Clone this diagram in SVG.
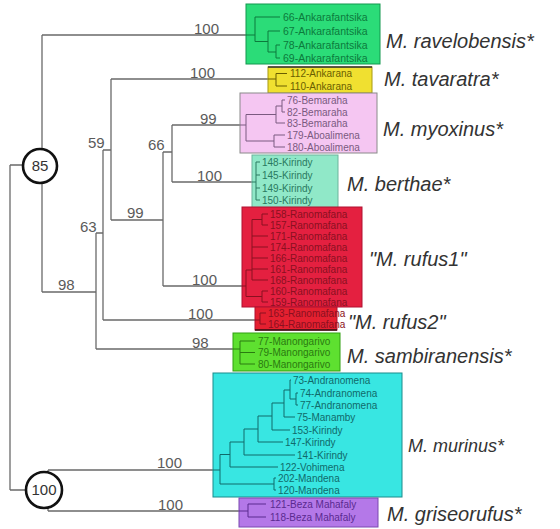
<svg xmlns="http://www.w3.org/2000/svg" width="560" height="529" viewBox="0 0 560 529">
<style>
.ln{stroke:#6a6a6a;stroke-width:1.3;fill:none}
.sup{font-family:"Liberation Sans",Arial,sans-serif;font-size:15px;fill:#5a5a5a}
.sp{font-family:"Liberation Sans",Arial,sans-serif;font-size:20px;font-style:italic;fill:#333}
.tip{font-family:"Liberation Sans",Arial,sans-serif;font-size:10px}
.circ{fill:#fff;stroke:#111;stroke-width:2.6}
.ct{font-family:"Liberation Sans",Arial,sans-serif;font-size:15px;fill:#333;text-anchor:middle}
</style>
<rect width="560" height="529" fill="#fff"/>
<g id="connectors">
<path class="ln" d="M10 165V490M10 165H42M10 490H46M42 35V292M48 470V511M96 233V349M103 150V320M111 79V220M163 152V286M172 125V182M42 35H246M111 79H268M172 125H240M172 182H252M163 152H172M111 220H163M103 150H111M96 233H103M163 286H242M103 320H255M96 349H233M42 292H96M48 470H213M48 511H239"/>
<text class="sup" x="194" y="34">100</text>
<text class="sup" x="190" y="78">100</text>
<text class="sup" x="200" y="124">99</text>
<text class="sup" x="197" y="181">100</text>
<text class="sup" x="148" y="150">66</text>
<text class="sup" x="127" y="218">99</text>
<text class="sup" x="88" y="148">59</text>
<text class="sup" x="80" y="232">63</text>
<text class="sup" x="192" y="285">100</text>
<text class="sup" x="188" y="319">100</text>
<text class="sup" x="192" y="348">98</text>
<text class="sup" x="58" y="290">98</text>
<text class="sup" x="157" y="468">100</text>
<text class="sup" x="158" y="510">100</text>
</g>
<g id="node85"><circle class="circ" cx="40" cy="166" r="17"/><text class="ct" x="40" y="171">85</text></g>
<g id="node100"><circle class="circ" cx="44" cy="490" r="18"/><text class="ct" x="44" y="495">100</text></g>
<g id="ravelobensis">
<rect x="246" y="4" width="134" height="60" fill="#2bdc78" stroke="#12984e"/>
<path d="M246 35H255M255 17V41.5M255 17H280M255 41.5H268M268 31V52M268 31H280M268 52H276M276 45V58M276 45H280M276 58H280" stroke="#0c7a3c" fill="none"/>
<g class="tip" fill="#0c7a3c" style="font-size:10.5px"><text x="283" y="20.5">66-Ankarafantsika</text><text x="283" y="34.5">67-Ankarafantsika</text><text x="283" y="48.5">78-Ankarafantsika</text><text x="283" y="61.5">69-Ankarafantsika</text></g>
<text class="sp" x="386" y="48">M. ravelobensis*</text>
</g>
<g id="tavaratra">
<rect x="268" y="67" width="104" height="26" fill="#f0e030" stroke="#a89a10"/>
<path d="M268 67H372" stroke="#333" stroke-width="1.5"/>
<path d="M268 79H276M276 73.5V86M276 73.5H287M276 86H287" stroke="#6a5e00" fill="none"/>
<g class="tip" fill="#6a5e00"><text x="290" y="77">112-Ankarana</text><text x="290" y="90">110-Ankarana</text></g>
<text class="sp" x="384" y="86">M. tavaratra*</text>
</g>
<g id="myoxinus">
<rect x="240" y="93" width="137" height="60" fill="#f5c6f2" stroke="#8a8a8a"/>
<path d="M240 125H246M246 114.5V141M246 114.5H276M246 141H274M276 106V123M276 123H285M276 106H282M282 100V112M282 100H285M282 112H285M274 135V147M274 135H285M274 147H285" stroke="#7a5a80" fill="none"/>
<g class="tip" fill="#7a5a80"><text x="287" y="103.5">76-Bemaraha</text><text x="287" y="115.5">82-Bemaraha</text><text x="287" y="126.5">83-Bemaraha</text><text x="287" y="138.5">179-Aboalimena</text><text x="287" y="150.5">180-Aboalimena</text></g>
<text class="sp" x="383" y="136">M. myoxinus*</text>
</g>
<g id="berthae">
<rect x="252" y="155" width="86" height="53" fill="#90e8c8" stroke="#6cb49c"/>
<path d="M252 182H256M256 162V200M256 162H260M256 175H260M256 188H260M256 200H260" stroke="#2a7a60" fill="none"/>
<g class="tip" fill="#2a7a60"><text x="262" y="165.5">148-Kirindy</text><text x="262" y="178.5">145-Kirindy</text><text x="262" y="191.5">149-Kirindy</text><text x="262" y="203.5">150-Kirindy</text></g>
<text class="sp" x="347" y="191">M. berthae*</text>
</g>
<g id="rufus1">
<rect x="242" y="207" width="120" height="100" fill="#e42040" stroke="#b01030"/>
<path d="M242 286H246M246 270V296.5M246 270H252M246 296.5H262M262 291V302M262 291H268M262 302H268M252 219.5V280M252 219.5H262M262 214V225M262 214H268M262 225H268M252 236H268M252 247H268M252 258H268M252 269H268M252 280H268" stroke="#8a1020" fill="none"/>
<g class="tip" fill="#8a1020"><text x="270" y="217.5">158-Ranomafana</text><text x="270" y="228.5">157-Ranomafana</text><text x="270" y="239.5">171-Ranomafana</text><text x="270" y="250.5">174-Ranomafana</text><text x="270" y="261.5">166-Ranomafana</text><text x="270" y="272.5">161-Ranomafana</text><text x="270" y="283.5">168-Ranomafana</text><text x="270" y="294.5">160-Ranomafana</text><text x="270" y="305.5">159-Ranomafana</text></g>
<text class="sp" x="369" y="266">"M. rufus1"</text>
</g>
<g id="rufus2">
<rect x="255" y="307" width="82" height="23" fill="#e42030" stroke="#b01030"/>
<path d="M255 330H337" stroke="#301010" stroke-width="1.6"/>
<path d="M255 320H260M260 313V324M260 313H266M260 324H266" stroke="#8a1020" fill="none"/>
<g class="tip" fill="#8a1020"><text x="268" y="316.5">163-Ranomafana</text><text x="268" y="327.5">164-Ranomafana</text></g>
<text class="sp" x="348" y="329">"M. rufus2"</text>
</g>
<g id="sambiranensis">
<rect x="233" y="333" width="107" height="38" fill="#5ee030" stroke="#30a010"/>
<path d="M233 349H240M240 341V364M240 341H255M240 352.5H255M240 364H255" stroke="#2a7a10" fill="none"/>
<g class="tip" fill="#2a7a10"><text x="258" y="344.5">77-Manongarivo</text><text x="258" y="356">79-Manongarivo</text><text x="258" y="367.5">80-Manongarivo</text></g>
<text class="sp" x="347" y="363">M. sambiranensis*</text>
</g>
<g id="murinus">
<rect x="213" y="373" width="189" height="124" fill="#38e6e2" stroke="#1a8c8c"/>
<path d="M213 470H220M220 454.5V484M220 454.5H230M220 484H274M230 442V467M230 467H278M230 442H244M244 429V455M244 455H295M244 429H258M258 416V442M258 442H283M258 416H272M272 403V430M272 430H290M272 403H284M284 390V417M284 417H295M284 390H290M290 380V399M290 380H291M290 399H296M296 393V405M296 393H298M296 405H298M274 478V490M274 478H276M274 490H276" stroke="#106a6a" fill="none"/>
<g class="tip" fill="#106a6a"><text x="293" y="383.5">73-Andranomena</text><text x="300" y="396.5">74-Andranomena</text><text x="300" y="408.5">77-Andranomena</text><text x="297" y="420.5">75-Manamby</text><text x="292" y="433.5">153-Kirindy</text><text x="285" y="445.5">147-Kirindy</text><text x="297" y="458.5">141-Kirindy</text><text x="280" y="470.5">122-Vohimena</text><text x="278" y="481.5">202-Mandena</text><text x="278" y="493.5">120-Mandena</text></g>
<text class="sp" x="408" y="452" style="font-size:18px">M. murinus*</text>
</g>
<g id="griseorufus">
<rect x="239" y="498" width="139" height="29" fill="#b478e8" stroke="#7a48b0"/>
<path d="M239 511H248M248 504V517M248 504H266M248 517H266" stroke="#5a2a90" fill="none"/>
<g class="tip" fill="#5a2a90"><text x="270" y="507.5">121-Beza Mahafaly</text><text x="270" y="520.5">118-Beza Mahafaly</text></g>
<text class="sp" x="387" y="521">M. griseorufus*</text>
</g>
</svg>
